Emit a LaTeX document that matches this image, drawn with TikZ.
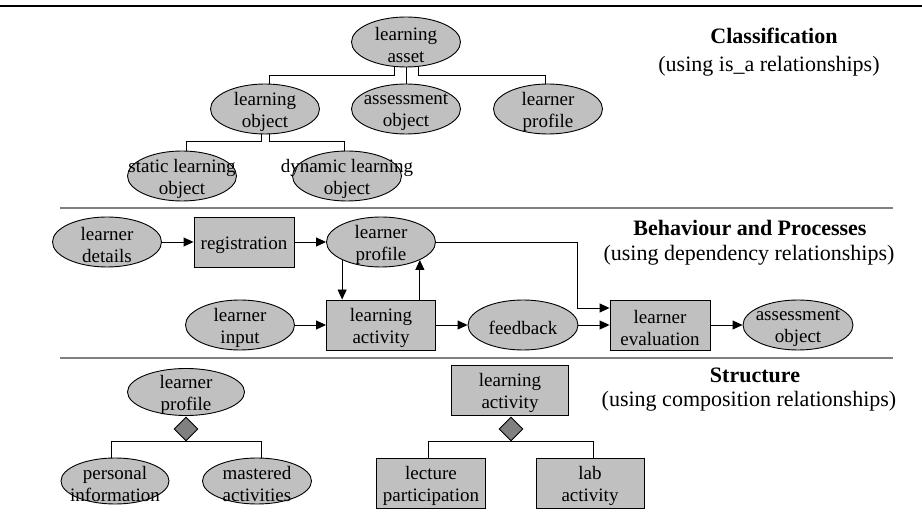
\documentclass[tikz,border=0pt]{standalone}
\usepackage{fontspec}
\setmainfont{Liberation Serif}
\usetikzlibrary{shapes.geometric,arrows.meta}
\definecolor{assetGray}{HTML}{C0C0C0}
\definecolor{ruleGray}{HTML}{808080}

\begin{document}
\begin{tikzpicture}
[x=1pt,y=-1pt,%
  ovalDecorate/.style={shape=ellipse,draw,fill=assetGray,line width=0.9pt,inner sep=0pt},
  boxDecorate/.style={shape=rectangle,draw,fill=assetGray,line width=0.9pt,inner sep=0pt,minimum height=50pt},
  diamondDecorate/.style={shape=diamond,draw,fill=ruleGray,line width=0.9pt,inner sep=0pt,minimum width=24pt,minimum height=24pt},
  textDecorate/.style={align=center,inner sep=0pt,font=\fontsize{19}{22}\selectfont},
  headDecorate/.style={anchor=base,inner sep=0pt,font=\fontsize{22}{26}\selectfont\bfseries},
  subDecorate/.style={anchor=base,inner sep=0pt,font=\fontsize{22}{26}\selectfont},
  lineDecorate/.style={-,line width=0.9pt},
  arrowDecorate/.style={-{Triangle[length=10pt,width=9pt]},line width=0.9pt},
  ruleDecorate/.style={ruleGray,line width=1.5pt}]
\useasboundingbox (0,0) rectangle (922,518);
%% section rules
\draw[line width=1.5pt] (0,6) -- (922,6);
\draw[ruleDecorate] (60,208) -- (893,208);
\draw[ruleDecorate] (60,358) -- (893,358);
%% ovals
\foreach \nodename/\x/\y/\w/\h in {
  asset/406/42/109/50, lobject/265/109/109/50, aobject/406/109/109/50,
  lprofile/548/109/109/50, slobject/182/176/109/50, dlobject/347/176/109/50,
  ldetails/107/242/109/50, lprofile2/381/242/109/50, linput/240/325/109/50,
  feedback/523/325/110/50, aobject2/798/325/110/50,
  lprofile3/186/392/117/47, pinfo/115/481/108/46, mactivities/257/481/109/46}
{
  \node (\nodename) at (\x,\y) [ovalDecorate,minimum width=\w pt,minimum height=\h pt] {};
}
%% boxes
\foreach \nodename/\x/\y/\w in {
  reg/244/242/100, lactivity/381/325/109, leval/660/325/100,
  lactivity3/510/390/117, lecture/431/483/109, lab/590/483/108}
{
  \node (\nodename) at (\x,\y) [boxDecorate,minimum width=\w pt] {};
}
%% composition diamonds
\node (comp1) at (186,429) [diamondDecorate] {};
\node (comp2) at (511,429) [diamondDecorate] {};
%% labels
\foreach \nodename/\txt in {
  asset/{learning\\asset}, lobject/{learning\\object},
  aobject/{assessment\\object}, lprofile/{learner\\profile},
  slobject/{static learning\\object}, dlobject/{dynamic learning\\object},
  ldetails/{learner\\details}, reg/{registration}, lprofile2/{learner\\profile},
  linput/{learner\\input}, lactivity/{learning\\activity}, feedback/{feedback},
  leval/{learner\\evaluation}, aobject2/{assessment\\object},
  lprofile3/{learner\\profile}, lactivity3/{learning\\activity},
  pinfo/{personal\\information}, mactivities/{mastered\\activities},
  lecture/{lecture\\participation}, lab/{lab\\activity}}
{
  \node (\nodename-t) at ([yshift=-3pt]\nodename.center) [textDecorate] {\txt};
}
%% headings
\node (classHead) at (774,44) [headDecorate] {Classification};
\node (classSub) at (769,72) [subDecorate] {(using is\_a relationships)};
\node (behavHead) at (750,236) [headDecorate] {Behaviour and Processes};
\node (behavSub) at (749,261) [subDecorate] {(using dependency relationships)};
\node (structHead) at (755,383) [headDecorate] {Structure};
\node (structSub) at (749,407) [subDecorate] {(using composition relationships)};
%% is_a tree
\draw[lineDecorate] ([xshift=-12pt]asset.south) -- ++(0,8) -| ([xshift=4pt]lobject.north);
\draw[lineDecorate] (asset) -- (aobject);
\draw[lineDecorate] ([xshift=12pt]asset.south) -- ++(0,8) -| ([xshift=-3pt]lprofile.north);
\draw[lineDecorate] ([xshift=-4pt]lobject.south) -- ++(0,7) -| ([xshift=4pt]slobject.north);
\draw[lineDecorate] ([xshift=4pt]lobject.south) -- ++(0,7) -| ([xshift=-3pt]dlobject.north);
%% dependencies
\path
\foreach \startnode/\endnode in {
  ldetails/reg, reg/lprofile2, linput/lactivity,
  lactivity/feedback, feedback/leval, leval/aobject2}
{
  (\startnode) edge[arrowDecorate] (\endnode)
};
\draw[arrowDecorate] (lprofile2.south west) -- (lprofile2.south west |- lactivity.north);
\draw[arrowDecorate] (lactivity.north -| lprofile2.south east) -- (lprofile2.south east);
\coordinate (evalin) at ([yshift=17pt]leval.west);
\draw[arrowDecorate] (lprofile2.east) -| ([xshift=-32pt]evalin) -- (evalin);
%% composition
\draw[lineDecorate] (comp1.south) -| ([xshift=-4pt]pinfo.north);
\draw[lineDecorate] (comp1.south) -| ([xshift=4pt]mactivities.north);
\draw[lineDecorate] (comp2.south) -| ([xshift=-3pt]lecture.north);
\draw[lineDecorate] (comp2.south) -| ([xshift=3pt]lab.north);
\end{tikzpicture}
\end{document}
